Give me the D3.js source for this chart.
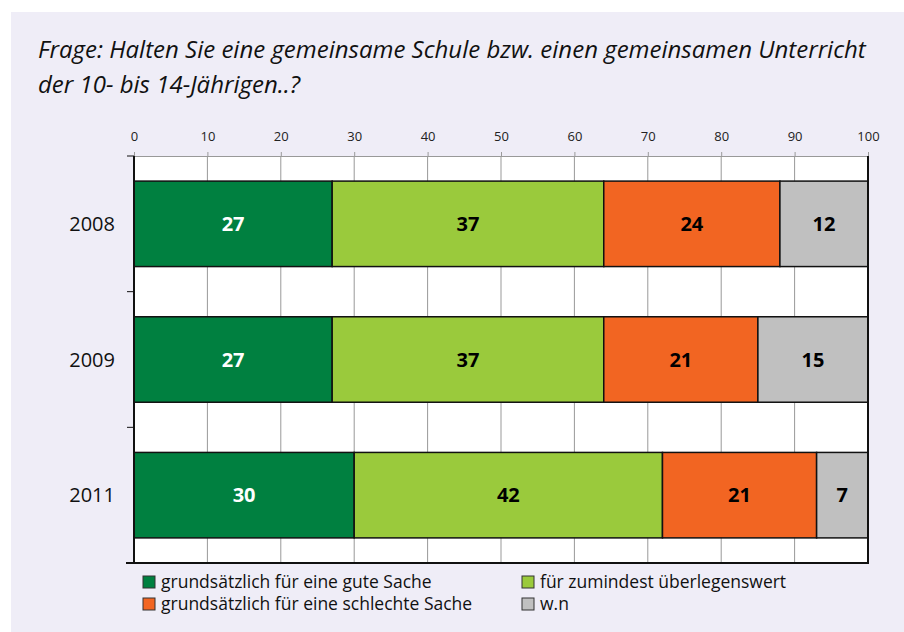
<!DOCTYPE html>
<html>
<head>
<meta charset="utf-8">
<script src="https://cdn.jsdelivr.net/npm/d3@7"></script>
<style>
  html, body { margin: 0; padding: 0; background: #fff; }
  svg { display: block; }
</style>
</head>
<body>
<svg id="chart"></svg>
<script>
// data
const years = ['2008', '2009', '2011'];
const seriesNames = [
    'grundsätzlich für eine gute Sache',
    'für zumindest überlegenswert',
    'grundsätzlich für eine schlechte Sache',
    'w.n'
];
const gut = [27, 27, 30];
const ueberlegenswert = [37, 37, 42];
const schlecht = [24, 21, 21];
const wn = [12, 15, 7];
const seriesColors = ['#008040', '#9aca3c', '#f26522', '#c0c0c0'];
const labelColors = ['#ffffff', '#000000', '#000000', '#000000'];
const xTicks = [0, 10, 20, 30, 40, 50, 60, 70, 80, 90, 100];
const titleLines = [
    'Frage: Halten Sie eine gemeinsame Schule bzw. einen gemeinsamen Unterricht',
    'der 10- bis 14-Jährigen..?'
];

const width = 904, height = 632;
const margin = {top: 156, right: 36, bottom: 69, left: 134};
const font = 'Open Sans, sans-serif';

const svg = d3.select('#chart').attr('width', width).attr('height', height);

// background panel
svg.append('rect')
    .attr('x', 11).attr('y', 12)
    .attr('width', width - 11).attr('height', height - 12)
    .attr('fill', '#efedf7');

// title, squeezed horizontally to look like a condensed italic face
const titleG = svg.append('g');
const titleText = titleG.selectAll('text')
    .data(titleLines)
    .join('text')
    .attr('x', 0)
    .attr('y', (d, i) => 58 + i * 35)
    .attr('font-family', font)
    .attr('font-style', 'italic')
    .attr('font-size', 23)
    .attr('fill', '#111')
    .text(d => d);
const firstW = titleText.node().getComputedTextLength();
const sx = 828 / firstW;
titleG.attr('transform', `translate(38,0) scale(${sx},1)`);

const innerW = width - margin.left - margin.right;
const innerH = height - margin.top - margin.bottom;

const x = d3.scaleLinear().domain([0, 100]).range([0, innerW]);
const y = d3.scaleBand().domain(years).range([0, innerH]).paddingInner(0.37).paddingOuter(0.185);
const yOuter = d3.scaleBand().domain(years).range([0, innerH]);

const chart = svg.append('g')
    .attr('transform', `translate(${margin.left},${margin.top})`);

// plot background
chart.append('rect')
    .attr('width', innerW).attr('height', innerH)
    .attr('fill', '#fff');

// vertical grid lines
chart.append('g').selectAll('line')
    .data(xTicks.slice(1, -1))
    .join('line')
    .attr('x1', d => x(d)).attr('x2', d => x(d))
    .attr('y1', 0).attr('y2', innerH)
    .attr('stroke', '#999').attr('stroke-width', 1);

// top axis
const xAxis = chart.append('g')
    .call(d3.axisTop(x).tickValues(xTicks).tickSize(4).tickPadding(11));
xAxis.select('.domain').attr('stroke', '#999');
xAxis.selectAll('.tick line').attr('stroke', '#999');
xAxis.selectAll('text')
    .attr('font-family', font).attr('font-size', 13).attr('fill', '#222');

// stack data
const rows = years.map((yr, i) => ({year: yr, values: [gut[i], ueberlegenswert[i], schlecht[i], wn[i]]}));
const segs = [];
rows.forEach(r => {
    let acc = 0;
    r.values.forEach((v, k) => {
        segs.push({year: r.year, k: k, x0: acc, x1: acc + v, v: v});
        acc += v;
    });
});

chart.append('g').selectAll('rect')
    .data(segs)
    .join('rect')
    .attr('x', d => x(d.x0))
    .attr('y', d => y(d.year))
    .attr('width', d => x(d.x1) - x(d.x0))
    .attr('height', y.bandwidth())
    .attr('fill', d => seriesColors[d.k])
    .attr('stroke', '#111')
    .attr('stroke-width', 1.5);

chart.append('g').selectAll('text')
    .data(segs)
    .join('text')
    .attr('x', d => x((d.x0 + d.x1) / 2))
    .attr('y', d => y(d.year) + y.bandwidth() / 2)
    .attr('dy', '0.36em')
    .attr('text-anchor', 'middle')
    .attr('font-family', font)
    .attr('font-weight', 'bold')
    .attr('font-size', 20)
    .attr('fill', d => labelColors[d.k])
    .text(d => d.v);

// frame: right and bottom border
chart.append('line')
    .attr('x1', innerW).attr('x2', innerW).attr('y1', 0).attr('y2', innerH)
    .attr('stroke', '#111').attr('stroke-width', 2);
chart.append('line')
    .attr('x1', -8).attr('x2', innerW + 1).attr('y1', innerH).attr('y2', innerH)
    .attr('stroke', '#111').attr('stroke-width', 2);

// left axis with ticks at band boundaries
chart.append('line')
    .attr('x1', 0).attr('x2', 0).attr('y1', 0).attr('y2', innerH)
    .attr('stroke', '#111').attr('stroke-width', 2);
const bounds = years.map(d => yOuter(d));
chart.append('g').selectAll('line')
    .data(bounds)
    .join('line')
    .attr('x1', -7).attr('x2', 0)
    .attr('y1', d => d).attr('y2', d => d)
    .attr('stroke', '#111').attr('stroke-width', 1);

chart.append('g').selectAll('text')
    .data(years)
    .join('text')
    .attr('x', -19)
    .attr('y', d => yOuter(d) + yOuter.bandwidth() / 2)
    .attr('dy', '0.36em')
    .attr('text-anchor', 'end')
    .attr('font-family', font)
    .attr('font-size', 20)
    .attr('fill', '#111')
    .text(d => d);

// legend
const legendPos = [[143, 582], [522, 582], [143, 604], [522, 604]];
const legend = svg.append('g').selectAll('g')
    .data(seriesNames)
    .join('g')
    .attr('transform', (d, i) => `translate(${legendPos[i][0]},${legendPos[i][1]})`);
legend.append('rect')
    .attr('x', 0).attr('y', -6)
    .attr('width', 12).attr('height', 12)
    .attr('fill', (d, i) => seriesColors[i])
    .attr('stroke', '#333').attr('stroke-width', 1);
legend.append('text')
    .attr('x', 18).attr('dy', '0.34em')
    .attr('font-family', font)
    .attr('font-size', 17.5)
    .attr('fill', '#111')
    .text(d => d);
</script>
</body>
</html>
